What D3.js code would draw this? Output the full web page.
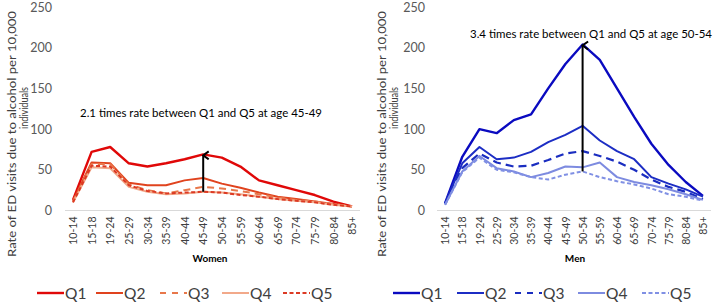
<!DOCTYPE html>
<html>
<head>
<meta charset="utf-8">
<script src="https://cdn.jsdelivr.net/npm/d3@7"></script>
<style>
  body { margin: 0; background: #fff; }
  text { font-family: Lato, "Open Sans", sans-serif; }
</style>
</head>
<body>
<div id="chart"></div>
<script>
// age groups on the x axis
const ageGroups = ["10-14","15-18","19-24","25-29","30-34","35-39","40-44","45-49","50-54","55-59","60-64","65-69","70-74","75-79","80-84","85+"]
const yTicks = [0, 50, 100, 150, 200, 250]
const quintiles = ["Q1","Q2","Q3","Q4","Q5"]

// women, rate per 10,000
const womenQ1 = [13, 72, 78, 58, 54, 58, 63, 69, 65, 54, 37, 31, 25, 19, 11, 5]
const womenQ2 = [12, 59, 58, 34, 31, 31, 37, 40, 33, 28, 22, 17, 14, 11, 8, 5]
const womenQ3 = [11, 57, 57, 32, 25, 21, 25, 29, 27, 24, 20, 16, 13, 11, 8, 5]
const womenQ4 = [10, 53, 52, 29, 23, 20, 21, 23, 22, 20, 17, 14, 12, 10, 7, 5]
const womenQ5 = [10, 55, 54, 31, 24, 21, 22, 23, 22, 19, 17, 14, 12, 10, 7, 5]

// men, rate per 10,000
const menQ1 = [9, 66, 100, 95, 111, 118, 150, 180, 204, 185, 150, 115, 82, 56, 35, 18]
const menQ2 = [9, 58, 78, 63, 65, 72, 84, 93, 104, 86, 73, 63, 41, 33, 26, 17]
const menQ3 = [8, 52, 70, 59, 54, 55, 62, 70, 73, 67, 60, 50, 38, 29, 23, 14]
const menQ4 = [7, 48, 67, 52, 48, 41, 46, 54, 53, 59, 41, 35, 31, 26, 20, 13]
const menQ5 = [7, 47, 65, 50, 47, 41, 38, 44, 48, 41, 36, 32, 27, 20, 17, 12]

const womenNote = "2.1 times rate between Q1 and Q5 at age 45-49"
const menNote = "3.4 times rate between Q1 and Q5 at age 50-54"

const width = 714
const height = 305

const svg = d3.select("#chart").append("svg").attr("width", width).attr("height", height)

svg.append("defs").append("marker")
  .attr("id", "head").attr("viewBox", "0 0 10 10").attr("refX", 5).attr("refY", 1.5)
  .attr("markerWidth", 10).attr("markerHeight", 10).attr("markerUnits", "userSpaceOnUse")
  .attr("orient", "auto-start-reverse")
  .append("path").attr("d", "M1,7 L5,1.5 L9,7").attr("fill", "none").attr("stroke", "#000").attr("stroke-width", 2)

function panel(opt) {
  const g = svg.append("g")
  const x = d3.scalePoint().domain(ageGroups).range(opt.xRange).padding(opt.pad)
  const y = d3.scaleLinear().domain([0, 250]).range([210.5, 7])

  // baseline
  g.append("line").attr("x1", opt.xRange[0]).attr("x2", opt.xRange[1])
    .attr("y1", y(0)).attr("y2", y(0)).attr("stroke", "#d9d9d9").attr("stroke-width", 1)

  const yAxis = d3.axisLeft(y).tickValues(yTicks).tickSize(0).tickPadding(4)
  const ya = g.append("g").attr("transform", `translate(${opt.yAxisX},0)`).call(yAxis)
  ya.select(".domain").remove()
  ya.selectAll("text").attr("font-family", "Lato, sans-serif").attr("font-size", 12.5).attr("fill", "#595959")

  const xAxis = d3.axisBottom(x).tickSize(0).tickPadding(0)
  const xa = g.append("g").attr("transform", `translate(0,${y(0)})`).call(xAxis)
  xa.select(".domain").remove()
  xa.selectAll("text")
    .attr("font-family", "Lato, sans-serif").attr("font-size", 10.5).attr("fill", "#404040")
    .attr("transform", "rotate(-90)").attr("text-anchor", "end")
    .attr("x", -6).attr("y", 0).attr("dy", "0.35em")

  const line = d3.line().x((d, i) => x(ageGroups[i])).y(d => y(d))
  opt.series.forEach((s, i) => {
    g.append("path").datum(s).attr("d", line).attr("fill", "none")
      .attr("stroke", opt.colors[i]).attr("stroke-width", opt.widths[i])
      .attr("stroke-dasharray", opt.dashes[i]).attr("stroke-linejoin", "round")
  })

  // arrow between Q5 and Q1
  const k = ageGroups.indexOf(opt.arrowAt)
  g.append("line").attr("x1", x(opt.arrowAt)).attr("x2", x(opt.arrowAt))
    .attr("y1", y(opt.series[4][k])).attr("y2", y(opt.series[0][k]) + 1)
    .attr("stroke", "#000").attr("stroke-width", 2).attr("marker-end", "url(#head)")

  g.append("text").attr("x", opt.noteX).attr("y", opt.noteY).attr("font-size", 11.5)
    .attr("textLength", 242).attr("lengthAdjust", "spacingAndGlyphs")
    .attr("fill", "#000").text(opt.note)

  // axis title
  const ty = g.append("text").attr("transform", `translate(${opt.titleX},0) rotate(-90)`)
    .attr("font-size", 12).attr("fill", "#404040").attr("text-anchor", "middle")
  ty.append("tspan").attr("x", -134).attr("y", 0)
    .attr("textLength", 246).attr("lengthAdjust", "spacingAndGlyphs")
    .text("Rate of ED visits due to alcohol per 10,000")
  ty.append("tspan").attr("x", -108).attr("y", 12)
    .attr("textLength", 42).attr("lengthAdjust", "spacingAndGlyphs")
    .text("individuals")

  g.append("text").attr("x", opt.labelX).attr("y", 262).attr("text-anchor", "middle")
    .attr("font-size", 10).attr("font-weight", "bold").attr("fill", "#000").text(opt.label)

  // legend
  opt.legendX.forEach((lx, i) => {
    g.append("line").attr("x1", lx).attr("x2", lx + 27).attr("y1", 293).attr("y2", 293)
      .attr("stroke", opt.colors[i]).attr("stroke-width", opt.widths[i])
      .attr("stroke-dasharray", opt.legendDash[i])
    g.append("text").attr("x", lx + 28).attr("y", 298.5).attr("font-size", 15.5)
      .attr("fill", "#404040").text(quintiles[i])
  })
}

panel({
  xRange: [65, 360], pad: 0.43, yAxisX: 56,
  series: [womenQ1, womenQ2, womenQ3, womenQ4, womenQ5],
  colors: ["#e00808", "#e0431e", "#e8774a", "#f2a98a", "#dc3a24"],
  widths: [2.4, 2, 2, 2, 2],
  dashes: [null, null, "7,5", null, "4,2.5"],
  legendDash: [null, null, "6,6", null, "4,2.5"],
  arrowAt: "45-49",
  note: womenNote, noteX: 80, noteY: 117,
  titleX: 16, label: "Women", labelX: 210,
  legendX: [37, 96, 160, 222, 283]
})

panel({
  xRange: [437, 711], pad: 0.47, yAxisX: 429,
  series: [menQ1, menQ2, menQ3, menQ4, menQ5],
  colors: ["#0a0ac0", "#1c2dc4", "#1a2dc0", "#7d8be0", "#8090e4"],
  widths: [2.4, 2, 2.2, 2, 2],
  dashes: [null, null, "8,5", null, "4,2.5"],
  legendDash: [null, null, "6,6", null, "4,2.5"],
  arrowAt: "50-54",
  note: menNote, noteX: 470, noteY: 38,
  titleX: 386, label: "Men", labelX: 575,
  legendX: [393, 457, 515, 578, 642]
})
</script>
</body>
</html>
